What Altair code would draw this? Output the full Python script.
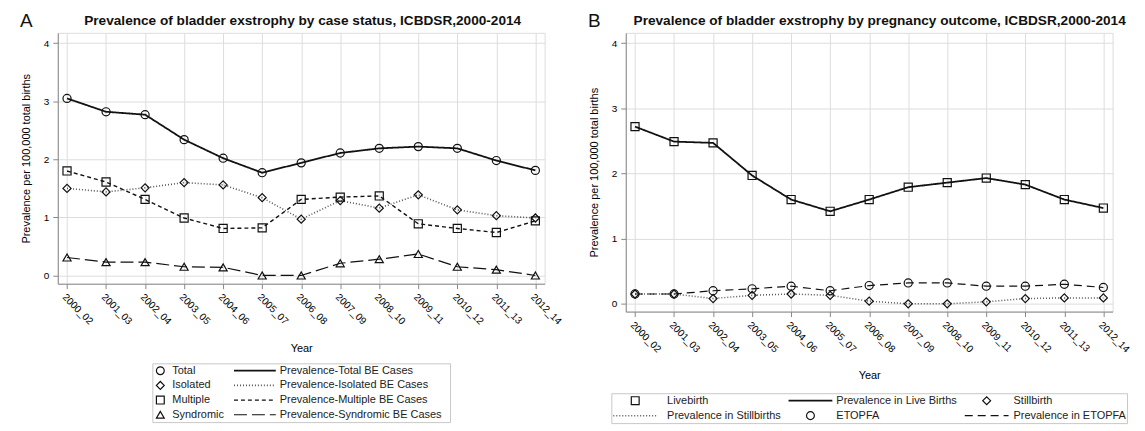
import altair as alt
import pandas as pd

# ---------------- data ----------------
periods = ["2000_02", "2001_03", "2002_04", "2003_05", "2004_06", "2005_07", "2006_08",
           "2007_09", "2008_10", "2009_11", "2010_12", "2011_13", "2012_14"]

# Panel A: by case status
total = [3.05, 2.82, 2.77, 2.34, 2.02, 1.77, 1.94, 2.11, 2.19, 2.22, 2.19, 1.98, 1.81]
isolated = [1.50, 1.44, 1.51, 1.60, 1.56, 1.34, 0.97, 1.29, 1.16, 1.39, 1.13, 1.03, 0.99]
multiple = [1.80, 1.61, 1.31, 0.99, 0.81, 0.82, 1.31, 1.35, 1.37, 0.89, 0.81, 0.74, 0.94]
syndromic = [0.31, 0.23, 0.23, 0.15, 0.14, 0.00, 0.00, 0.21, 0.28, 0.37, 0.15, 0.10, 0.00]

# Panel B: by pregnancy outcome
livebirth = [2.72, 2.49, 2.47, 1.97, 1.60, 1.42, 1.60, 1.79, 1.86, 1.93, 1.83, 1.60, 1.47]
stillbirth = [0.15, 0.15, 0.08, 0.13, 0.15, 0.13, 0.04, 0.00, 0.00, 0.03, 0.08, 0.09, 0.09]
etopfa = [0.15, 0.15, 0.20, 0.23, 0.27, 0.20, 0.28, 0.32, 0.32, 0.27, 0.27, 0.30, 0.25]

a_series = ["Total", "Isolated", "Multiple", "Syndromic"]
a_line_labels = ["Prevalence-Total BE Cases", "Prevalence-Isolated BE Cases",
                 "Prevalence-Multiple BE Cases", "Prevalence-Syndromic BE Cases"]
b_series = ["Livebirth", "Stillbirth", "ETOPFA"]
b_line_labels = ["Prevalence in Live Births", "Prevalence in Stillbirths", "Prevalence in ETOPFA"]

title_a = "Prevalence of bladder exstrophy by case status, ICBDSR,2000-2014"
title_b = "Prevalence of bladder exstrophy by pregnancy outcome, ICBDSR,2000-2014"
y_title = "Prevalence per 100,000 total births"
x_title = "Year"

# ---------------- styles ----------------
FONT = "Liberation Sans, Arial, Helvetica, sans-serif"
a_shapes = ["circle", "diamond", "square", "triangle-up"]
a_dashes = [[1, 0], [1, 2], [4, 3], [13, 5]]
a_widths = [1.8, 1.2, 1.8, 1.8]
a_colors = ["#111111", "#555555", "#111111", "#111111"]
b_shapes = ["square", "diamond", "circle"]
b_dashes = [[1, 0], [1, 2], [8, 5]]
b_widths = [1.8, 1.2, 1.8]
b_colors = ["#111111", "#555555", "#111111"]


def long_df(series, arrays):
    rows = []
    for s, arr in zip(series, arrays):
        for p, v in zip(periods, arr):
            rows.append({"period": p, "series": s, "value": v})
    return pd.DataFrame(rows)


def panel_plot(df, series, shapes, dashes, widths, colors, ydom, w, h, title, title_cx, letter):
    xenc = alt.X("period:O", sort=periods,
                 scale=alt.Scale(type="point", padding=0.237),
                 axis=alt.Axis(title=x_title, labelAngle=45, grid=True, tickSize=5,
                               labelPadding=3, titlePadding=16, labelOverlap=False,
                               titleFontWeight="normal"))
    yenc = alt.Y("value:Q", scale=alt.Scale(domain=ydom, nice=False, zero=False),
                 axis=alt.Axis(title=y_title, values=[0, 1, 2, 3, 4], format="d",
                               tickSize=5, labelPadding=4, titlePadding=12,
                               titleFontWeight="normal"))
    base = alt.Chart(df).encode(x=xenc, y=yenc)
    lines = base.mark_line(strokeCap="butt").encode(
        strokeDash=alt.StrokeDash("series:N", scale=alt.Scale(domain=series, range=dashes), legend=None),
        strokeWidth=alt.StrokeWidth("series:N", scale=alt.Scale(domain=series, range=widths), legend=None),
        color=alt.Color("series:N", scale=alt.Scale(domain=series, range=colors), legend=None),
    )
    points = base.mark_point(filled=False, size=66, strokeWidth=1.2, opacity=1, color="#111111").encode(
        shape=alt.Shape("series:N", scale=alt.Scale(domain=series, range=shapes), legend=None),
    )
    heading = alt.Chart(pd.DataFrame({"t": [letter], "h": [title]}))
    letter_mark = heading.mark_text(
        align="left", baseline="alphabetic", fontSize=19, font=FONT, color="#111111"
    ).encode(text="t:N", x=alt.value(-38), y=alt.value(-6))
    title_mark = heading.mark_text(
        align="center", baseline="alphabetic", fontSize=13.7, font=FONT, fontWeight="bold",
        color="#111111"
    ).encode(text="h:N", x=alt.value(title_cx), y=alt.value(-8))
    return alt.layer(lines, points, letter_mark, title_mark).properties(width=w, height=h)


def legend_chart(marker_rows, line_rows, text_rows, series, shapes, dashes, widths, colors, W, H, nrows):
    ydom = [-0.5, nrows - 0.5]
    mk = pd.DataFrame(marker_rows)
    ln = pd.DataFrame(line_rows)
    tx = pd.DataFrame(text_rows)
    xs = alt.Scale(domain=[0, W], nice=False, zero=False)
    ys = alt.Scale(domain=ydom, nice=False, zero=False, reverse=True)
    m = alt.Chart(mk).mark_point(filled=False, size=62, strokeWidth=1.2, opacity=1, color="#111111").encode(
        x=alt.X("x:Q", scale=xs, axis=None), y=alt.Y("row:Q", scale=ys, axis=None),
        shape=alt.Shape("series:N", scale=alt.Scale(domain=series, range=shapes), legend=None))
    l = alt.Chart(ln).mark_rule(strokeCap="butt").encode(
        x=alt.X("x0:Q", scale=xs, axis=None), x2="x1:Q", y=alt.Y("row:Q", scale=ys, axis=None),
        strokeDash=alt.StrokeDash("series:N", scale=alt.Scale(domain=series, range=dashes), legend=None),
        strokeWidth=alt.StrokeWidth("series:N", scale=alt.Scale(domain=series, range=widths), legend=None),
        color=alt.Color("series:N", scale=alt.Scale(domain=series, range=colors), legend=None))
    t = alt.Chart(tx).mark_text(align="left", baseline="middle", fontSize=11, font=FONT, color="#222222").encode(
        x=alt.X("x:Q", scale=xs, axis=None), y=alt.Y("row:Q", scale=ys, axis=None), text="label:N")
    return alt.layer(l, m, t).properties(
        width=W, height=H, view=alt.ViewBackground(stroke="#c8c8c8", strokeWidth=1))


# ---------------- panel A ----------------
df_a = long_df(a_series, [total, isolated, multiple, syndromic])
plot_a = panel_plot(df_a, a_series, a_shapes, a_dashes, a_widths, a_colors,
                    [-0.142, 4.18], 489, 252, title_a, 246, "A")

# legend A layout (2 columns x 4 rows)
LA_W, LA_H = 299, 59
mk_a, ln_a, tx_a = [], [], []
for i, (s, lab) in enumerate(zip(a_series, a_line_labels)):
    mk_a.append({"series": s, "row": i, "x": 8})
    tx_a.append({"label": s, "row": i, "x": 20})
    ln_a.append({"series": s, "row": i, "x0": 82, "x1": 124})
    tx_a.append({"label": lab, "row": i, "x": 128})
leg_a = legend_chart(mk_a, ln_a, tx_a, a_series, a_shapes, a_dashes, a_widths, a_colors,
                     LA_W, LA_H, 4)

# ---------------- panel B ----------------
df_b = long_df(b_series, [livebirth, stillbirth, etopfa])
plot_b = panel_plot(df_b, b_series, b_shapes, b_dashes, b_widths, b_colors,
                    [-0.12, 4.16], 489, 280, title_b, 255, "B")

# legend B layout (row-major: marker, line, marker / line, marker, line)
LB_W, LB_H = 518, 30
col_center = [24, 200, 377]
col_label = [56, 226, 404]
entries = []
for s, lab in zip(b_series, b_line_labels):
    entries.append(("marker", s, s))
    entries.append(("line", s, lab))
mk_b, ln_b, tx_b = [], [], []
for k, (kind, s, lab) in enumerate(entries):
    r, c = k // 3, k % 3
    if kind == "marker":
        mk_b.append({"series": s, "row": r, "x": col_center[c]})
    else:
        ln_b.append({"series": s, "row": r, "x0": col_center[c] - 22, "x1": col_center[c] + 22})
    tx_b.append({"label": lab, "row": r, "x": col_label[c]})
leg_b = legend_chart(mk_b, ln_b, tx_b, b_series, b_shapes, b_dashes, b_widths, b_colors,
                     LB_W, LB_H, 2)

panel_a = alt.vconcat(plot_a, leg_a, spacing=80, center=True, bounds="flush")
panel_b = alt.vconcat(plot_b, leg_b, spacing=82, center=True, bounds="flush")

chart = alt.hconcat(panel_a, panel_b, spacing=24).resolve_scale(
    shape="independent", strokeDash="independent", strokeWidth="independent", color="independent"
).properties(
    padding={"left": 11, "top": 2, "right": 5, "bottom": 5}
).configure_view(stroke="#9a9a9a", strokeWidth=1).configure_axis(
    labelFont=FONT, titleFont=FONT, labelFontSize=11, titleFontSize=11,
    labelColor="#333333", titleColor="#333333", titleFontWeight="normal",
    tickColor="#888888", gridColor="#e4e4e4", domain=False,
).configure(background="white")

chart.save("out.html", embed_options={"renderer": "svg", "actions": False})
